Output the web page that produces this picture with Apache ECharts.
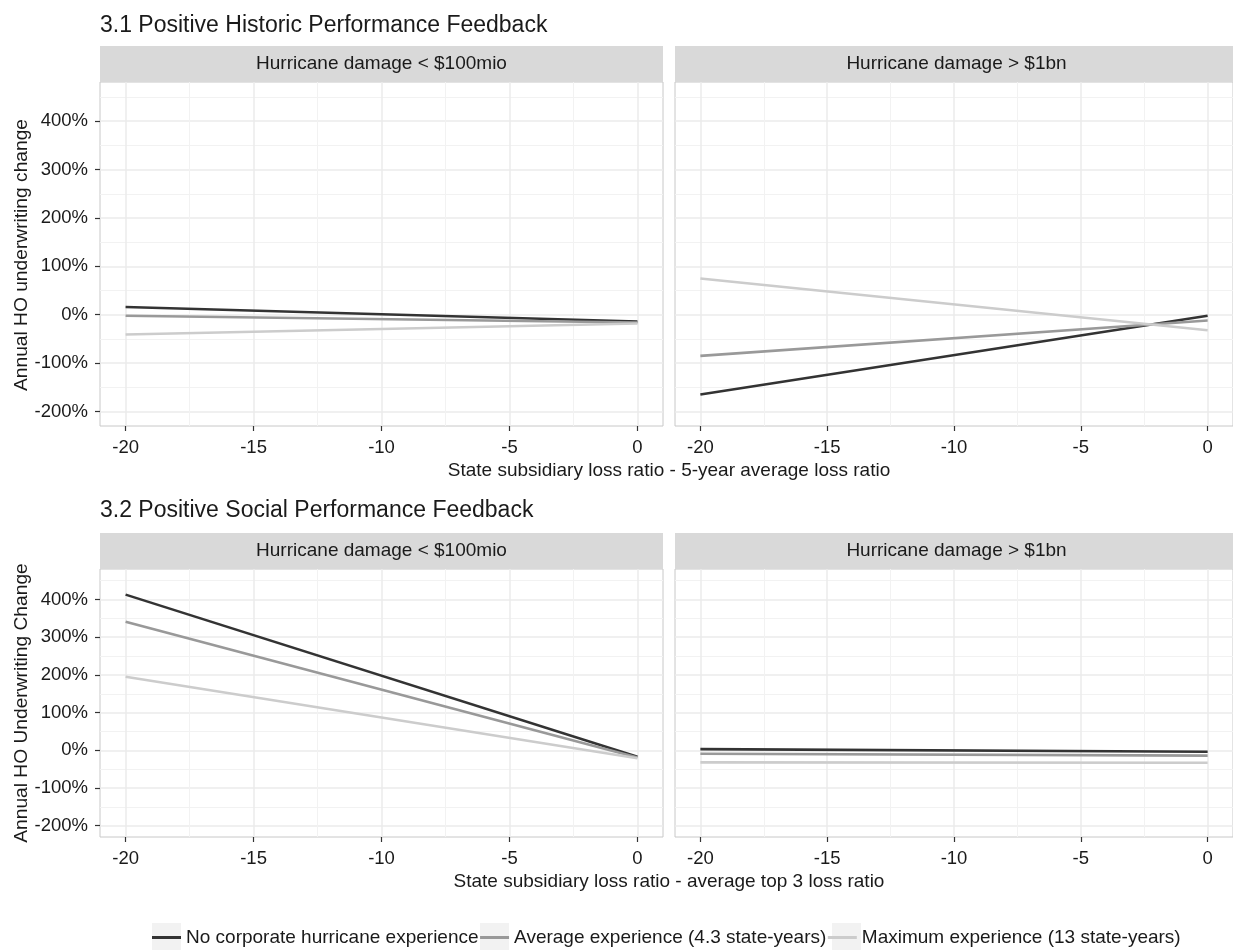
<!DOCTYPE html>
<html>
<head>
<meta charset="utf-8">
<script src="https://cdn.jsdelivr.net/npm/echarts@6/dist/echarts.min.js"></script>
<style>
  html, body { margin: 0; padding: 0; background: #fff; }
  #main { width: 1233px; height: 950px; }
</style>
</head>
<body>
<div id="main"></div>
<script>
// ---- data ----
const xValues = [-20, 0];
const seriesNames = ['No corporate hurricane experience', 'Average experience (4.3 state-years)', 'Maximum experience (13 state-years)'];
const xTicks = [-20, -15, -10, -5, 0];
const xMinor = [-17.5, -12.5, -7.5, -2.5];
const yTicks = [-200, -100, 0, 100, 200, 300, 400];
const yMinor = [-150, -50, 50, 150, 250, 350, 450];
const stripTitles = ['Hurricane damage < $100mio', 'Hurricane damage > $1bn'];
const sectionTitles = ['3.1 Positive Historic Performance Feedback', '3.2 Positive Social Performance Feedback'];
const xTitles = ['State subsidiary loss ratio - 5-year average loss ratio', 'State subsidiary loss ratio - average top 3 loss ratio'];
const yTitles = ['Annual HO underwriting change', 'Annual HO Underwriting Change'];

// 3.1 historic feedback
const histLowNone = [16, -14];
const histLowAvg = [-2, -16];
const histLowMax = [-41, -18];
const histHighNone = [-165, -2];
const histHighAvg = [-85, -12];
const histHighMax = [75, -32];
// 3.2 social feedback
const socLowNone = [413, -17];
const socLowAvg = [341, -19];
const socLowMax = [195, -21];
const socHighNone = [3, -4];
const socHighAvg = [-9, -14];
const socHighMax = [-32, -33];

const lineColors = ['#333333', '#999999', '#cccccc'];
const FONT = '"Liberation Sans", Arial, Helvetica, sans-serif';

const panels = [
  { grid: { left: 100, top: 82, width: 563, height: 344 }, values: [histLowNone, histLowAvg, histLowMax], yLab: true },
  { grid: { left: 675, top: 82, width: 563, height: 344 }, values: [histHighNone, histHighAvg, histHighMax], yLab: false },
  { grid: { left: 100, top: 569, width: 563, height: 268 }, values: [socLowNone, socLowAvg, socLowMax], yLab: true },
  { grid: { left: 675, top: 569, width: 563, height: 268 }, values: [socHighNone, socHighAvg, socHighMax], yLab: false }
];

const grids = [], xAxes = [], yAxes = [], series = [];
panels.forEach(function (p, i) {
  grids.push(Object.assign({ show: true, borderColor: '#c8c8c8', borderWidth: 1, backgroundColor: '#fff', containLabel: false }, p.grid));
  // major x
  xAxes.push({
    type: 'value', gridIndex: i, min: -21, max: 1, position: 'bottom',
    axisLine: { show: false, onZero: false },
    axisTick: { show: true, length: 5, customValues: xTicks, lineStyle: { color: '#333', width: 1.2 } },
    axisLabel: { show: true, customValues: xTicks, margin: 12, fontSize: 18.5, color: '#1a1a1a', fontFamily: FONT },
    splitLine: { show: true, lineStyle: { color: '#ebebeb', width: 1.5 } }
  });
  // minor x
  xAxes.push({
    type: 'value', gridIndex: i, min: -21, max: 1, position: 'bottom',
    axisLine: { show: false, onZero: false },
    axisTick: { show: false, customValues: xMinor },
    axisLabel: { show: false, customValues: xMinor },
    splitLine: { show: true, lineStyle: { color: '#f2f2f2', width: 1 } }
  });
  yAxes.push({
    type: 'value', gridIndex: i, min: -230, max: 481, position: 'left',
    axisLine: { show: false, onZero: false },
    axisTick: { show: p.yLab, length: 5, customValues: yTicks, lineStyle: { color: '#333', width: 1.2 } },
    axisLabel: { show: p.yLab, customValues: yTicks, margin: 12, fontSize: 18.5, color: '#1a1a1a', fontFamily: FONT,
      formatter: function (v) { return v + '%'; } },
    splitLine: { show: true, lineStyle: { color: '#ebebeb', width: 1.5 } }
  });
  yAxes.push({
    type: 'value', gridIndex: i, min: -230, max: 481, position: 'left',
    axisLine: { show: false, onZero: false },
    axisTick: { show: false, customValues: yMinor },
    axisLabel: { show: false, customValues: yMinor },
    splitLine: { show: true, lineStyle: { color: '#f2f2f2', width: 1 } }
  });
  p.values.forEach(function (vals, k) {
    series.push({
      name: seriesNames[k],
      type: 'line',
      xAxisIndex: i * 2,
      yAxisIndex: i * 2,
      data: xValues.map(function (x, j) { return [x, vals[j]]; }),
      showSymbol: false,
      symbol: 'none',
      silent: true,
      color: lineColors[k],
      lineStyle: { color: lineColors[k], width: 2.6 },
      z: 3
    });
  });
});

function txt(x, y, text, size, align, rot) {
  return {
    type: 'text', x: x, y: y, rotation: rot || 0, silent: true, z: 10,
    style: { text: text, fontSize: size, fontFamily: FONT, fill: '#1a1a1a', align: align || 'center', verticalAlign: 'middle' }
  };
}
function strip(x, y, w, h) {
  return { type: 'rect', shape: { x: x, y: y, width: w, height: h }, style: { fill: '#d9d9d9' }, silent: true, z: 5 };
}
function keyBox(x) {
  return { type: 'rect', shape: { x: x, y: 923, width: 29, height: 27 }, style: { fill: '#f2f2f2' }, silent: true, z: 0 };
}

const graphics = [
  txt(100, 26, sectionTitles[0], 23, 'left'),
  txt(100, 511, sectionTitles[1], 23, 'left'),
  strip(100, 46, 563, 36), strip(675, 46, 563, 36),
  strip(100, 533, 563, 36), strip(675, 533, 563, 36),
  txt(381.5, 64, stripTitles[0], 19), txt(956.5, 64, stripTitles[1], 19),
  txt(381.5, 551, stripTitles[0], 19), txt(956.5, 551, stripTitles[1], 19),
  txt(669, 471, xTitles[0], 19), txt(669, 882, xTitles[1], 19),
  txt(22, 255, yTitles[0], 19.2, 'center', Math.PI / 2),
  txt(22, 703, yTitles[1], 19.2, 'center', Math.PI / 2),
  // legend key backgrounds
  keyBox(152), keyBox(480), keyBox(832)
];

const chart = echarts.init(document.getElementById('main'), null, { renderer: 'canvas' });
chart.setOption({
  animation: false,
  backgroundColor: '#fff',
  grid: grids,
  xAxis: xAxes,
  yAxis: yAxes,
  series: series,
  legend: {
    data: seriesNames,
    left: 152, top: 928, padding: 0,
    icon: 'rect', itemWidth: 29, itemHeight: 3, itemGap: 1.5,
    selectedMode: false,
    textStyle: { fontSize: 19, color: '#1a1a1a', fontFamily: FONT }
  },
  graphic: graphics
});
</script>
</body>
</html>
